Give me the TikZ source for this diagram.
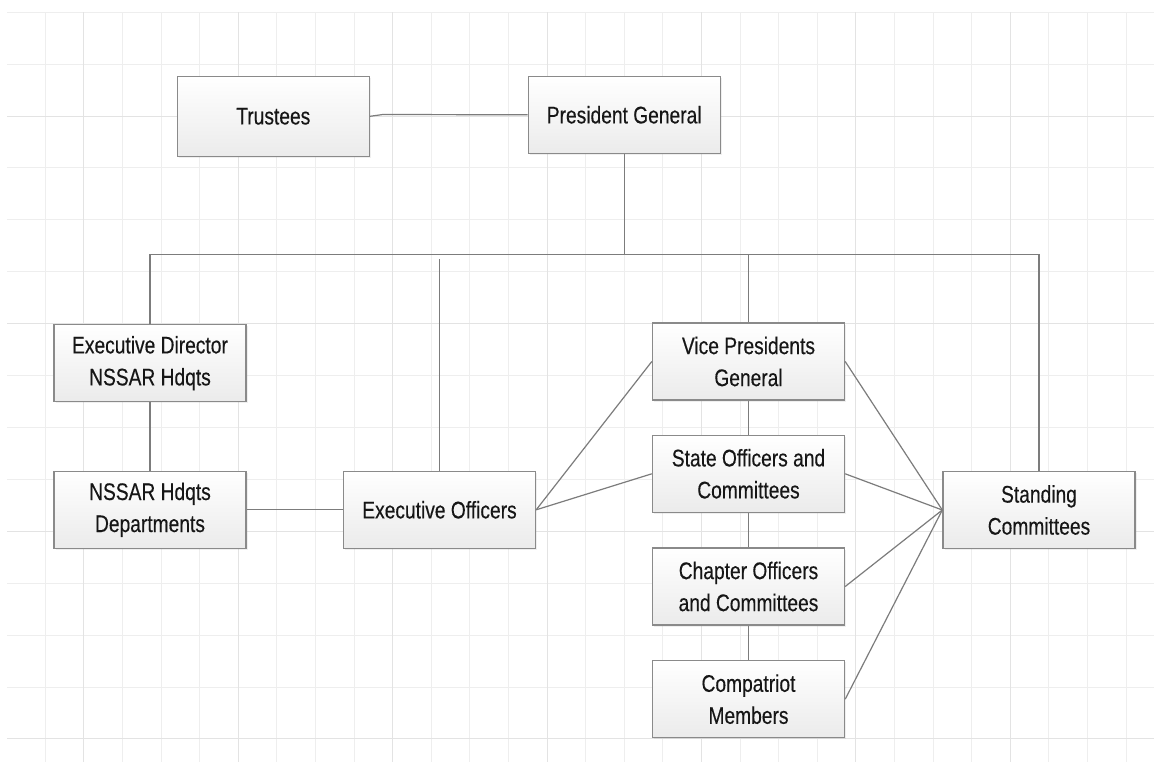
\documentclass[tikz,border=0pt]{standalone}
\usepackage{fontspec}
\setmainfont{Liberation Sans}[FakeStretch=0.8,FakeBold=0.3]
\usepackage{tikz}
\usetikzlibrary{shadows}
\definecolor{gridc}{HTML}{EEEEEE}
\definecolor{gridd}{HTML}{E3E3E3}
\definecolor{linec}{HTML}{7C7C7C}
\definecolor{boxline}{HTML}{8A8A8A}
\definecolor{boxbot}{HTML}{EBEBEB}
\definecolor{txt}{HTML}{161616}

\begin{document}
\begin{tikzpicture}[x=1pt,y=-1pt,
        orgbox/.style={draw=boxline,line width=1.4pt,top color=white,bottom color=boxbot,
            minimum width=192pt,minimum height=77pt,inner sep=0pt,align=center,text=txt,
            font=\fontsize{24}{32}\selectfont,
            drop shadow={shadow xshift=1.5pt,shadow yshift=-1.5pt,opacity=0.12}},
        link/.style={draw=linec,line width=1.2pt}]
            \fill[white] (0,0) rectangle (1154,762);
            \useasboundingbox (0,0) rectangle (1154,762);

            \foreach \j [evaluate={\gy=12.3+51.9*\j}] in {0,...,14}{
                \draw[gridc,line width=1pt] (7,\gy) -- (1154,\gy);
            }
            \foreach \k [evaluate={\gx=6.7+38.6*\k}] in {1,...,29}{
                \draw[gridc,line width=1pt] (\gx,12.3) -- (\gx,762);
            }
            \foreach \j [evaluate={\gy=12.3+51.9*\j}] in {2,6,10,14}{
                \draw[gridd,line width=1pt] (7,\gy) -- (1154,\gy);
            }
            \foreach \k [evaluate={\gx=6.7+38.6*\k}] in {2,6,...,26}{
                \draw[gridd,line width=1pt] (\gx,12.3) -- (\gx,762);
            }

            \node[orgbox,minimum height=80pt] (tru) at (273.3,116.3) {Trustees};
            \node[orgbox] (pres) at (624.2,114.8) {President General};
            \node[orgbox] (ed) at (150,363.2) {Executive Director\\NSSAR Hdqts};
            \node[orgbox] (dept) at (150,509.8) {NSSAR Hdqts\\Departments};
            \node[orgbox] (eo) at (439.5,509.8) {Executive Officers};
            \node[orgbox] (vp) at (748.5,361.5) {Vice Presidents\\General};
            \node[orgbox] (so) at (748.5,473.8) {State Officers and\\Committees};
            \node[orgbox] (co) at (748.5,586.5) {Chapter Officers\\and Committees};
            \node[orgbox] (cm) at (748.5,699.2) {Compatriot\\Members};
            \node[orgbox] (sc) at (1039,510) {Standing\\Committees};
            \coordinate (bus) at (624.2,254.5);
            \coordinate (eotop) at (439.5,259);
            \coordinate (kink) at (383,114.5);

            \draw[link] (tru.east) -- (kink) -- (pres.west);
            \draw[link] (pres.south) -- (bus);
            \draw[link] (ed.north) |- (bus) -| (sc.north);
            \draw[link] (vp.north) -- (vp.north |- bus);
            \draw[link] (eo.north) -- (eotop);
            \draw[link] (ed) -- (dept);
            \draw[link] (dept) -- (eo);
            \foreach \n in {vp,so}{
                \draw[link] (eo.east) -- (\n.west);
            }
            \draw[link] (vp) -- (so) -- (co) -- (cm);
            \foreach \n in {vp,so,co,cm}{
                \draw[link] (\n.east) -- (sc.west);
            }
        \end{tikzpicture}
\end{document}
